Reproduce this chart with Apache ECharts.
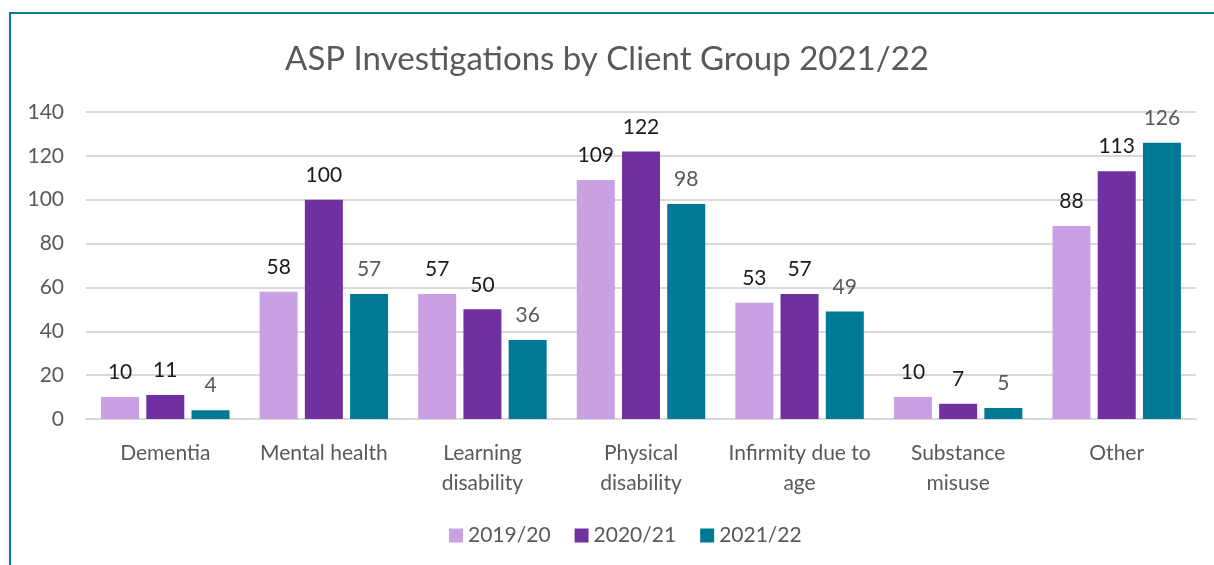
<!DOCTYPE html>
<html>
<head>
<meta charset="utf-8">
<script src="https://cdn.jsdelivr.net/npm/echarts@6/dist/echarts.min.js"></script>
<style>
html, body { margin: 0; padding: 0; background: #fff; }
#chart { width: 1214px; height: 565px; }
</style>
</head>
<body>
<div id="chart"></div>
<script>
const categories = ['Dementia', 'Mental health', 'Learning\ndisability', 'Physical\ndisability',
    'Infirmity due to\nage', 'Substance\nmisuse', 'Other'];
const seriesNames = ['2019/20', '2020/21', '2021/22'];
const values1920 = [10, 58, 57, 109, 53, 10, 88];
const values2021 = [11, 100, 50, 122, 57, 7, 113];
const values2122 = [4, 57, 36, 98, 49, 5, 126];
const yTicks = [0, 20, 40, 60, 80, 100, 120, 140];

const colors = ['#C9A0E2', '#7030A0', '#007A94'];
const labelColors = ['#1a1a1a', '#1a1a1a', '#595959'];
const font = 'Lato, "Open Sans", sans-serif';

let myChart = echarts.init(document.getElementById('chart'));

function bar(i, data) {
    return {
        name: seriesNames[i],
        type: 'bar',
        data: data,
        barWidth: 38,
        barGap: '19%',
        itemStyle: { color: colors[i] },
        label: {
            show: true,
            position: 'top',
            distance: 14,
            color: labelColors[i],
            fontSize: 21,
            fontFamily: font
        }
    };
}

myChart.setOption({
    backgroundColor: '#fff',
    animation: false,
    title: {
        text: 'ASP Investigations by Client Group 2021/22',
        left: 'center',
        top: 38,
        textStyle: { color: '#595959', fontSize: 33, fontWeight: 'normal', fontFamily: font }
    },
    graphic: [{
        type: 'rect',
        shape: { x: 10, y: 13, width: 1230, height: 580 },
        style: { fill: 'none', stroke: '#0E7A92', lineWidth: 2 }
    }],
    legend: {
        bottom: 14,
        left: 444,
        itemWidth: 14,
        itemHeight: 14,
        itemGap: 24,
        icon: 'rect',
        textStyle: { color: '#595959', fontSize: 21, fontFamily: font }
    },
    grid: { left: 86, right: 18, top: 112, bottom: 146 },
    xAxis: {
        type: 'category',
        data: categories,
        axisTick: { show: false },
        axisLine: { lineStyle: { color: '#d9d9d9', width: 2 } },
        axisLabel: { color: '#595959', fontSize: 21, fontFamily: font, margin: 19, lineHeight: 30, interval: 0 }
    },
    yAxis: {
        type: 'value',
        min: yTicks[0],
        max: yTicks[yTicks.length - 1],
        interval: 20,
        axisLine: { show: false },
        axisTick: { show: false },
        splitLine: { lineStyle: { color: '#d9d9d9', width: 2 } },
        axisLabel: { color: '#595959', fontSize: 21, fontFamily: font, margin: 22 }
    },
    series: [bar(0, values1920), bar(1, values2021), bar(2, values2122)]
});
</script>
</body>
</html>
